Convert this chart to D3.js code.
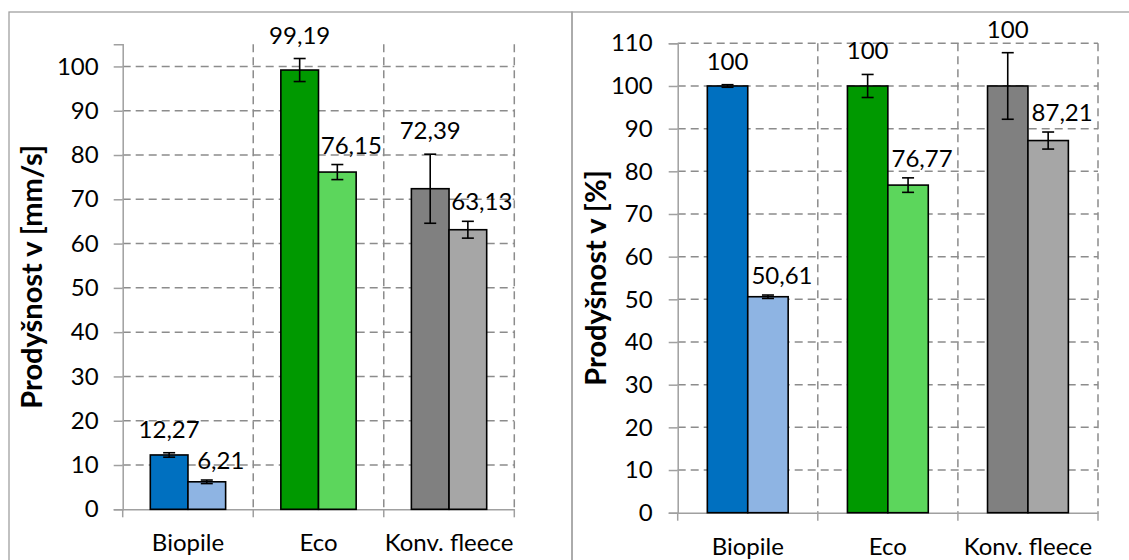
<!DOCTYPE html>
<html>
<head>
<meta charset="utf-8">
<script src="https://cdn.jsdelivr.net/npm/d3@7"></script>
<style>
  html, body { margin: 0; padding: 0; background: #fff; }
  svg { display: block; font-family: Lato, "Open Sans", sans-serif; }
</style>
</head>
<body>
<svg id="chart" width="1129" height="560"></svg>
<script>
// Categories of tested fabrics
const categories = ["Biopile", "Eco", "Konv. fleece"];

// Air permeability in mm/s (first and second bar of each group) with error half-widths
const speedFirst = [12.27, 99.19, 72.39];
const speedSecond = [6.21, 76.15, 63.13];
const speedFirstErr = [0.5, 2.6, 7.8];
const speedSecondErr = [0.4, 1.7, 1.9];

// Relative air permeability in % with error half-widths
const relFirst = [100, 100, 100];
const relSecond = [50.61, 76.77, 87.21];
const relFirstErr = [0.3, 2.7, 7.8];
const relSecondErr = [0.4, 1.7, 2.0];

// Y tick values for both panels
const speedTicks = [0, 10, 20, 30, 40, 50, 60, 70, 80, 90, 100];
const relTicks = [0, 10, 20, 30, 40, 50, 60, 70, 80, 90, 100, 110];

// Dark / light fill per category
const darkColors = ["#0070C0", "#009900", "#808080"];
const lightColors = ["#8EB4E3", "#5CD65C", "#A6A6A6"];

const svg = d3.select("#chart");
const locale = d3.formatLocale({ decimal: ",", thousands: " ", grouping: [3], currency: ["", ""] });
const fmt = locale.format(".2~f");

const GRID = "#8c8c8c";
const AXIS = "#a0a0a0";
const FONT = "Lato, 'Open Sans', sans-serif";
const FONT_SIZE = 24;
const TITLE_SIZE = 29;

// Panel frames
svg.append("rect").attr("x", 9).attr("y", 12).attr("width", 563).attr("height", 580)
  .attr("fill", "none").attr("stroke", AXIS).attr("stroke-width", 1.3);
svg.append("rect").attr("x", 572).attr("y", 12).attr("width", 600).attr("height", 580)
  .attr("fill", "none").attr("stroke", AXIS).attr("stroke-width", 1.3);

function drawPanel(cfg) {
  const g = svg.append("g");
  const x = d3.scaleBand().domain(categories).range([cfg.left, cfg.right]).paddingInner(0).paddingOuter(0);
  const bw = x.bandwidth();
  const pad = bw * 0.2115;
  const x1 = d3.scaleBand().domain([0, 1]).range([pad, bw - pad]).padding(0);
  const y = d3.scaleLinear().domain([0, cfg.max]).range([cfg.bottom, cfg.top]);

  // Horizontal dashed grid lines
  g.append("g").selectAll("line").data(cfg.ticks.filter(t => t > 0)).join("line")
    .attr("x1", cfg.left).attr("x2", cfg.right)
    .attr("y1", d => y(d)).attr("y2", d => y(d))
    .attr("stroke", GRID).attr("stroke-width", 1.5).attr("stroke-dasharray", "8,5");

  // Vertical dashed grid lines at category boundaries
  g.append("g").selectAll("line").data(categories).join("line")
    .attr("x1", d => x(d) + bw).attr("x2", d => x(d) + bw)
    .attr("y1", y(cfg.max)).attr("y2", cfg.bottom)
    .attr("stroke", GRID).attr("stroke-width", 1.5).attr("stroke-dasharray", "8,5");

  // Category boundary ticks below the axis
  g.append("g").selectAll("line").data([cfg.left].concat(categories.map(c => x(c) + bw))).join("line")
    .attr("x1", d => d).attr("x2", d => d)
    .attr("y1", cfg.bottom).attr("y2", cfg.bottom + 8)
    .attr("stroke", AXIS).attr("stroke-width", 1.5);

  // Y axis
  const yAxis = g.append("g").attr("transform", `translate(${cfg.left},0)`)
    .call(d3.axisLeft(y).tickValues(cfg.ticks).tickSize(9).tickPadding(cfg.tickPad).tickFormat(d3.format("d")));
  yAxis.select(".domain").attr("stroke", AXIS).attr("stroke-width", 1.5);
  yAxis.selectAll(".tick line").attr("stroke", AXIS).attr("stroke-width", 1.5);
  yAxis.selectAll("text").attr("font-size", FONT_SIZE).attr("fill", "#000").attr("font-family", FONT);

  // X axis
  const xAxis = g.append("g").attr("transform", `translate(0,${cfg.bottom})`)
    .call(d3.axisBottom(x).tickSize(0).tickPadding(25));
  xAxis.select(".domain").attr("stroke", AXIS).attr("stroke-width", 1.5);
  xAxis.selectAll("text").attr("font-size", FONT_SIZE).attr("fill", "#000").attr("font-family", FONT);

  // Bars
  const rows = [];
  categories.forEach((c, i) => {
    rows.push({ c, s: 0, v: cfg.first[i], e: cfg.firstErr[i], fill: darkColors[i] });
    rows.push({ c, s: 1, v: cfg.second[i], e: cfg.secondErr[i], fill: lightColors[i] });
  });
  const cx = d => x(d.c) + x1(d.s) + x1.bandwidth() / 2;

  g.append("g").selectAll("rect").data(rows).join("rect")
    .attr("x", d => x(d.c) + x1(d.s))
    .attr("y", d => y(d.v))
    .attr("width", x1.bandwidth())
    .attr("height", d => y(0) - y(d.v))
    .attr("fill", d => d.fill)
    .attr("stroke", "#000").attr("stroke-width", 1.6);

  // Error bars
  const eb = g.append("g").attr("stroke", "#000").attr("stroke-width", 1.6);
  rows.forEach(d => {
    const xc = cx(d);
    eb.append("line").attr("x1", xc).attr("x2", xc).attr("y1", y(d.v + d.e)).attr("y2", y(d.v - d.e));
    eb.append("line").attr("x1", xc - 6).attr("x2", xc + 6).attr("y1", y(d.v + d.e)).attr("y2", y(d.v + d.e));
    eb.append("line").attr("x1", xc - 6).attr("x2", xc + 6).attr("y1", y(d.v - d.e)).attr("y2", y(d.v - d.e));
  });

  // Value labels above the error bars
  g.append("g").selectAll("text").data(rows).join("text")
    .attr("x", d => cx(d) + (d.s === 1 ? 14 : 0))
    .attr("y", d => y(d.v + d.e) - (d.s === 1 ? 11 : 15))
    .attr("text-anchor", "middle")
    .attr("font-size", FONT_SIZE).attr("font-family", FONT).attr("fill", "#000")
    .text(d => fmt(d.v));

  // Y axis title
  g.append("text")
    .attr("transform", `translate(${cfg.titleX},${(cfg.top + cfg.bottom) / 2}) rotate(-90)`)
    .attr("text-anchor", "middle")
    .attr("font-size", TITLE_SIZE).attr("font-weight", "bold").attr("font-family", FONT).attr("fill", "#000")
    .text(cfg.title);
}

drawPanel({
  left: 122.7, right: 514.3, top: 44.3, bottom: 509.3, max: 105,
  ticks: speedTicks, tickPad: 15,
  first: speedFirst, second: speedSecond, firstErr: speedFirstErr, secondErr: speedSecondErr,
  title: "Prodyšnost v [mm/s]", titleX: 42
});

drawPanel({
  left: 677.7, right: 1098, top: 43.3, bottom: 512.7, max: 110,
  ticks: relTicks, tickPad: 16,
  first: relFirst, second: relSecond, firstErr: relFirstErr, secondErr: relSecondErr,
  title: "Prodyšnost v [%]", titleX: 606
});
</script>
</body>
</html>
